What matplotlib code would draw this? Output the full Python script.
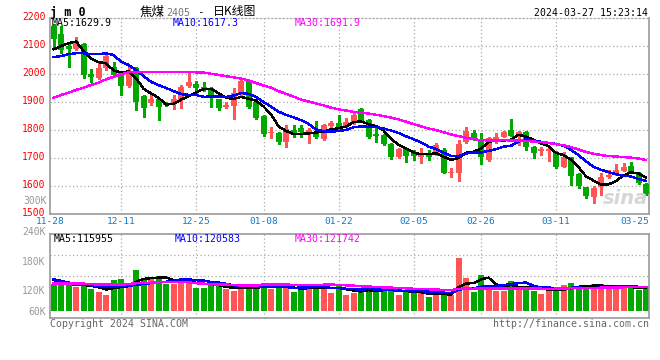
import numpy as np
import pandas as pd
import matplotlib
matplotlib.use("Agg")
import matplotlib.pyplot as plt
from matplotlib.transforms import blended_transform_factory, ScaledTranslation

W, H = 660, 360

# ---------------- data ----------------
opens = [2171, 2143, 2100, 2088, 2107, 1999, 1987, 2020, 2026, 2002,
         1958, 2020, 1921, 1895, 1912, 1893, 1895, 1907, 1957, 1964,
         1955, 1949, 1909, 1881, 1886, 1929, 1976, 1899, 1850, 1790,
         1788, 1758, 1800, 1806, 1786, 1794, 1768, 1814, 1826, 1812,
         1824, 1874, 1836, 1786, 1782, 1750, 1702, 1731, 1717, 1702,
         1718, 1714, 1729, 1648, 1645, 1758, 1791, 1767, 1693, 1758,
         1776, 1800, 1774, 1794, 1740, 1726, 1726, 1723, 1669, 1702,
         1643, 1595, 1559, 1598, 1631, 1640, 1655, 1671, 1648, 1607]
highs = [2178, 2170, 2110, 2133, 2110, 2017, 2044, 2074, 2044, 2005,
         2026, 2025, 1925, 1925, 1915, 1900, 1925, 1960, 2008, 1975,
         1970, 1952, 1912, 1901, 1949, 1987, 1980, 1903, 1853, 1812,
         1792, 1818, 1818, 1818, 1806, 1832, 1821, 1832, 1854, 1842,
         1865, 1877, 1838, 1818, 1785, 1752, 1735, 1733, 1729, 1735,
         1729, 1752, 1735, 1663, 1764, 1812, 1800, 1788, 1776, 1788,
         1796, 1839, 1797, 1796, 1743, 1740, 1740, 1726, 1720, 1705,
         1646, 1598, 1600, 1645, 1657, 1677, 1681, 1687, 1650, 1609]
lows = [2088, 2074, 2026, 2085, 1985, 1973, 1982, 2015, 1990, 1925,
        1955, 1871, 1848, 1890, 1836, 1885, 1874, 1877, 1955, 1925,
        1940, 1883, 1871, 1878, 1838, 1926, 1880, 1840, 1779, 1770,
        1750, 1740, 1774, 1776, 1755, 1772, 1765, 1812, 1798, 1810,
        1820, 1828, 1770, 1758, 1745, 1696, 1700, 1687, 1693, 1681,
        1693, 1710, 1645, 1631, 1619, 1755, 1764, 1677, 1690, 1755,
        1774, 1777, 1746, 1729, 1699, 1711, 1690, 1663, 1667, 1604,
        1592, 1556, 1538, 1568, 1628, 1638, 1652, 1645, 1606, 1568]
closes = [2124, 2086, 2088, 2119, 1996, 1990, 2020, 2064, 1996, 1957,
          2008, 1901, 1877, 1909, 1881, 1888, 1909, 1955, 1971, 1951,
          1943, 1913, 1880, 1889, 1931, 1976, 1883, 1844, 1786, 1794,
          1758, 1802, 1786, 1792, 1800, 1776, 1818, 1826, 1812, 1830,
          1854, 1832, 1776, 1780, 1750, 1702, 1731, 1708, 1708, 1717,
          1703, 1748, 1648, 1651, 1750, 1796, 1767, 1702, 1773, 1776,
          1794, 1780, 1792, 1740, 1719, 1731, 1731, 1669, 1702, 1636,
          1600, 1565, 1594, 1631, 1639, 1657, 1669, 1648, 1610, 1570]
# volume, thousands of lots
volumes = [130.0, 126.7, 130.0, 121.5, 129.0, 117.8, 112.0, 104.5, 137.8, 140.0,
           128.0, 160.0, 137.8, 145.0, 146.7, 130.0, 130.0, 137.8, 140.0, 120.8,
           120.8, 126.7, 126.7, 117.0, 114.0, 117.0, 126.7, 126.7, 132.0, 117.0,
           120.8, 124.5, 112.0, 120.8, 120.8, 124.5, 124.5, 110.0, 124.5, 104.5,
           110.0, 114.0, 124.5, 114.0, 114.0, 119.3, 104.5, 114.0, 110.0, 108.2,
           100.8, 106.7, 108.2, 104.5, 188.0, 143.7, 112.0, 149.0, 124.5, 114.0,
           114.0, 135.6, 124.5, 120.8, 114.0, 106.7, 114.0, 122.0, 126.7, 131.0,
           122.0, 119.3, 128.9, 128.9, 119.3, 121.5, 124.4, 119.3, 115.6, 124.4]

# leading moving-average values (history before the first candle is not shown)
ma5_head = [2088, 2100, 2110, 2116]
ma10_head = [2060, 2064, 2071, 2074, 2074, 2071, 2071, 2074, 2068]
ma30_head = [1915, 1925, 1933, 1943, 1951, 1961, 1969, 1981, 1990, 1999,
             2006, 2008, 2008, 2008, 2008, 2008, 2008, 2008, 2007, 2006,
             2005, 2001, 1997, 1992, 1988, 1984, 1977, 1968, 1959]
vol_ma5_head = [137.8, 135.6, 130.4, 126.7]
vol_ma10_head = [140.0, 136.0, 132.6, 129.0, 128.2, 126.7, 124.5, 122.3, 122.3]
vol_ma30_head = [130, 130, 130, 130, 130, 129, 128, 128, 128, 128,
                 129, 131, 132, 132, 133, 134, 134, 134, 133, 131,
                 130, 129, 128, 128, 127, 126, 126, 126, 127]

date_labels = ["12-11", "12-25", "01-08", "01-22", "02-05", "02-26", "03-11"]
date_index = [9, 19, 28, 38, 48, 57, 67]
first_label, last_label = "11-28", "03-25"
price_ticks = [2200, 2100, 2000, 1900, 1800, 1700, 1600, 1500]
price_grid = [2100, 2000, 1900, 1800, 1700, 1600]
vol_ticks = [240, 180, 120, 60]
vol_tick_labels = ["240K", "180K", "120K", "60K"]

ma_main_text = ["MA5:1629.9", "MA10:1617.3", "MA30:1691.9"]
ma_vol_text = ["MA5:115955", "MA10:120583", "MA30:121742"]

# ---------------- styles ----------------
RED = "#ff5555"
GREEN = "#00a800"
MA_COLORS = ["#000000", "#0000ff", "#ff00ff"]
GRID = "#aaaaaa"
BORDER = "#999999"
DATE_C = "#1178c8"
MONO = ["DejaVu Sans Mono", "Noto Sans CJK SC"]
CJK = ["Noto Sans CJK SC", "DejaVu Sans"]
plt.rcParams["font.family"] = MONO


def moving_average(values, n, head):
    s = pd.Series(values, dtype=float).rolling(n).mean().to_numpy()
    s[:len(head)] = head
    return s


o = np.array(opens, float)
hi = np.array(highs, float)
lo = np.array(lows, float)
c = np.array(closes, float)
v = np.array(volumes, float)
x = np.arange(len(c))
cols = [RED if cc >= oo else GREEN for oo, cc in zip(o, c)]

ma_main = [moving_average(c, 5, ma5_head), moving_average(c, 10, ma10_head),
           moving_average(c, 30, ma30_head)]
ma_vol = [moving_average(v, 5, vol_ma5_head), moving_average(v, 10, vol_ma10_head),
          moving_average(v, 30, vol_ma30_head)]

fig = plt.figure(figsize=(W / 100, H / 100), dpi=100)
fig.patch.set_facecolor("white")


def ft(px, py, s, **kw):
    fig.text(px / W, 1 - py / H, s, **kw)


def nudge(label, up_px):
    label.set_transform(label.get_transform() +
                        ScaledTranslation(0, up_px / 100, fig.dpi_scale_trans))


XL = (-0.47, 79.4)
ax = fig.add_axes([50 / W, 1 - 214 / H, 599 / W, 196 / H])
axv = fig.add_axes([50 / W, 1 - 317.7 / H, 599 / W, 83.4 / H])
VOL_LIM = (54.1, 239.2)
VOL_FLOOR = 69.6

for a in (ax, axv):
    a.set_xlim(*XL)
    a.set_facecolor("white")
    for sp in a.spines.values():
        sp.set_color(BORDER)
        sp.set_linewidth(1.2)
    a.tick_params(length=0)
    a.set_xticks([])
    for di in date_index:
        a.axvline(di, color=GRID, lw=0.9, ls=(0, (1, 2)), zorder=0)

ax.spines["top"].set_linestyle((0, (1, 2)))
ax.spines["top"].set_linewidth(0.9)
ax.spines["top"].set_color(GRID)

# main panel
ax.set_ylim(1500, 2200)
for p in price_grid:
    ax.axhline(p, color=GRID, lw=0.9, ls=(0, (1, 2)), zorder=0)
ax.set_yticks(price_ticks)
ax.set_yticklabels([str(p) for p in price_ticks], color="#ff0000", fontsize=7)
ax.tick_params(axis="y", pad=3)
for lab in ax.get_yticklabels():
    nudge(lab, 2)

ax.vlines(x, lo, hi, colors=cols, lw=1, zorder=2, antialiased=False)
body_h = np.maximum(np.abs(c - o), 2.5)
ax.bar(x, body_h, bottom=np.minimum(o, c), width=0.8, color=cols, lw=0,
       zorder=3, antialiased=False)
for m, col in zip(ma_main, MA_COLORS):
    ax.plot(x, m, color=col, lw=1, zorder=4, antialiased=False)

# volume panel
axv.set_ylim(*VOL_LIM)
for frac in (0.25, 0.5, 0.75):
    axv.axhline(VOL_LIM[0] + frac * (VOL_LIM[1] - VOL_LIM[0]), color=GRID,
                lw=0.9, ls=(0, (1, 2)), zorder=0)
axv.set_yticks(vol_ticks)
axv.set_yticklabels(vol_tick_labels, color="#999999", fontsize=7)
axv.tick_params(axis="y", pad=3)
for lab, up in zip(axv.get_yticklabels(), (3.5, 0.3, -1.7, 4.3)):
    nudge(lab, up)
axv.bar(x, v - VOL_FLOOR, bottom=VOL_FLOOR, width=0.8, color=cols, lw=0,
        zorder=2, antialiased=False)
for m, col in zip(ma_vol, MA_COLORS):
    axv.plot(x, m, color=col, lw=1, zorder=4, antialiased=False)

# date labels
tr = blended_transform_factory(ax.transData, ax.transAxes)
ydate = -(222 - 214) / 196
ax.text(XL[0], ydate, first_label, transform=tr, ha="center", va="center",
        color=DATE_C, fontsize=6.8)
for lab, di in zip(date_labels, date_index):
    ax.text(di, ydate, lab, transform=tr, ha="center", va="center",
            color=DATE_C, fontsize=6.8)
ax.text(XL[1], ydate, last_label, transform=tr, ha="right", va="center",
        color=DATE_C, fontsize=6.8)

# header
ft(50, 12.5, "j m 0", fontsize=8.5, fontweight="bold", va="center", ha="left")
ft(140, 12, "焦煤", family=CJK, fontsize=9, va="center", ha="left")
ft(166, 12.5, "2405", fontsize=7.2, color="#777777", va="center", ha="left")
ft(200, 12, "-", fontsize=8, va="center", ha="center")
ft(213, 12, "日K线图", family=CJK, fontsize=8.6, va="center", ha="left")
ft(648, 12.5, "2024-03-27 15:23:14", fontsize=7.1, va="center", ha="right")

for s, px, col in zip(ma_main_text, (52, 173, 295), MA_COLORS):
    ft(px, 23.5, s, fontsize=7.1, color=col, va="center", ha="left")
for s, px, col in zip(ma_vol_text, (54, 175, 295), MA_COLORS):
    ft(px, 238.5, s, fontsize=7.1, color=col, va="center", ha="left")

ft(47, 200.5, "300K", fontsize=7, color="#999999", va="center", ha="right")

# watermark
ft(648, 199, "sina", fontsize=14, fontstyle="italic", fontweight="bold",
   color="#d6d6d6", va="center", ha="right", family=["DejaVu Sans"])

ft(50, 324, "Copyright 2024 SINA.COM", fontsize=7.1, color="#666666",
   va="center", ha="left")
ft(649, 324, "http://finance.sina.com.cn", fontsize=7.1, color="#666666",
   va="center", ha="right")

fig.savefig("out.png", dpi=100, facecolor="white")
